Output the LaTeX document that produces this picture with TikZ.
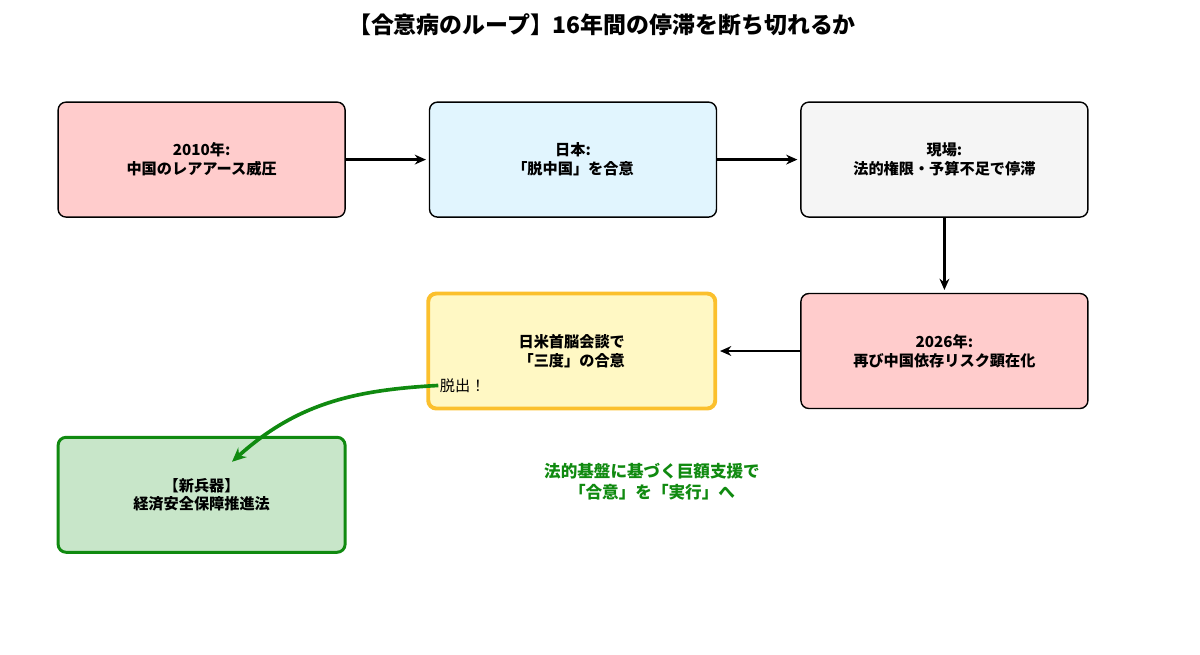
\documentclass[tikz,border=0pt]{standalone}
\usepackage{fontspec}
\setmainfont{Noto Sans CJK JP}
\usetikzlibrary{positioning,arrows.meta}

\definecolor{pinkfill}{HTML}{FFCCCC}
\definecolor{bluefill}{HTML}{E1F5FE}
\definecolor{greyfill}{HTML}{F5F5F5}
\definecolor{yellowfill}{HTML}{FFF8C4}
\definecolor{yellowline}{HTML}{FBC02D}
\definecolor{greenfill}{HTML}{C8E6C9}
\definecolor{exitgreen}{HTML}{108A10}

\begin{document}
\begin{tikzpicture}[
    box/.style={draw=black, line width=1pt, rounded corners=0.2cm,
      minimum width=7.175cm, minimum height=2.875cm, align=center,
      font=\fontsize{10.8}{13.5}\selectfont\bfseries},
    flow/.style={-{Stealth[length=8pt,width=7pt]}, line width=1.6pt, shorten >=2pt},
    node distance=2.075cm
  ]
  \useasboundingbox (0,0) rectangle (30,-16.375);

  \node[font=\fontsize{16.3}{19}\selectfont\bfseries] (title) at (15.05,-0.625)
    {【合意病のループ】16年間の停滞を断ち切れるか};

  \node[box, fill=pinkfill] (rare) at (5.04,-3.99) {2010年:\\中国のレアアース威圧};
  \node[box, fill=bluefill, right=of rare] (agree) {日本:\\「脱中国」を合意};
  \node[box, fill=greyfill, right=of agree] (stall) {現場:\\法的権限・予算不足で停滞};
  \node[box, fill=pinkfill, below=1.875cm of stall] (depend) {2026年:\\再び中国依存リスク顕在化};
  \node[box, fill=yellowfill, draw=yellowline, line width=2.8pt, left=of depend] (summit)
    {日米首脳会談で\\「三度」の合意};
  \node[box, fill=greenfill, draw=exitgreen, line width=2.1pt, below=5.45cm of rare] (law)
    {【新兵器】\\経済安全保障推進法};

  \node[anchor=west, inner sep=1pt, font=\fontsize{10.8}{13}\selectfont] (exit)
    at ([xshift=0.3cm,yshift=0.625cm]summit.south west) {脱出！};
  \coordinate (hit) at ([xshift=0.76cm,yshift=-0.65cm]law.north);

  \node[text=exitgreen, align=center, font=\fontsize{11.8}{15}\selectfont\bfseries] (note)
    at (16.3,-12.03) {法的基盤に基づく巨額支援で\\「合意」を「実行」へ};

  \draw[flow] (rare) -- (agree);
  \draw[flow] (agree) -- (stall);
  \draw[flow] (stall) -- (depend);
  \draw[flow] (depend) -- (summit);
  \draw[-{Stealth[length=10pt,width=9pt]}, line width=2.6pt, exitgreen]
    (exit.west) to[out=183, in=42] (hit);
\end{tikzpicture}
\end{document}
